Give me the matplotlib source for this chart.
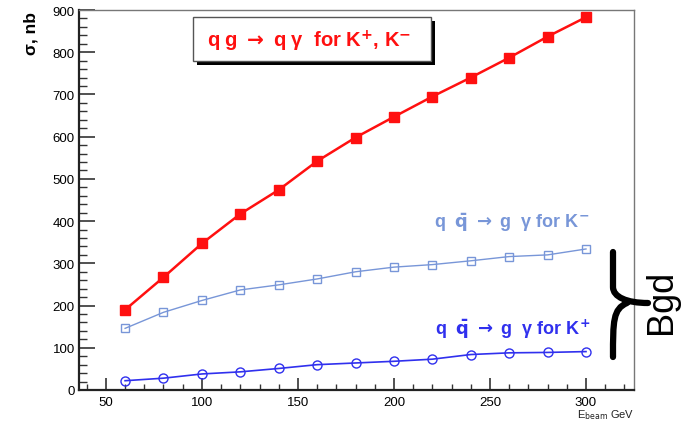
import matplotlib
matplotlib.use("Agg")
import matplotlib.pyplot as plt
from matplotlib.patches import Rectangle, PathPatch
from matplotlib.path import Path
from matplotlib.ticker import MultipleLocator

# Beam energy points (GeV)
energy = [60, 80, 100, 120, 140, 160, 180, 200, 220, 240, 260, 280, 300]
# Cross sections (nb)
sigma_qg = [190, 267, 347, 417, 474, 542, 598, 647, 695, 740, 787, 837, 883]
sigma_qqbar_kminus = [146, 184, 212, 237, 249, 263, 280, 291, 297, 306, 316, 320, 334]
sigma_qqbar_kplus = [22, 28, 38, 43, 51, 60, 64, 68, 73, 84, 88, 89, 91]

W, H = 693, 427
plt.rcParams["font.family"] = ["Liberation Sans", "DejaVu Sans"]
plt.rcParams["mathtext.fontset"] = "dejavusans"

fig = plt.figure(figsize=(W / 100, H / 100), dpi=100)
ax = fig.add_axes([79 / W, 1 - 391 / H, (634 - 79) / W, (391 - 11) / H])


def fx(px):
    return px / W


def fy(py):
    return 1 - py / H


red = "#ff1010"
light_blue = "#7896d8"
blue = "#3030ee"

ax.plot(energy, sigma_qg, color=red, lw=1.8, marker="s", ms=6.5,
        mfc=red, mec=red, zorder=4)
ax.plot(energy, sigma_qqbar_kminus, color=light_blue, lw=1.0, marker="s",
        ms=6, mfc="none", mec=light_blue, mew=1.0, zorder=3)
ax.plot(energy, sigma_qqbar_kplus, color=blue, lw=1.2, marker="o", ms=6.5,
        mfc="none", mec=blue, mew=1.0, zorder=3)

ax.set_xlim(36, 325)
ax.set_ylim(0, 900)
ax.xaxis.set_major_locator(MultipleLocator(50))
ax.xaxis.set_minor_locator(MultipleLocator(10))
ax.yaxis.set_major_locator(MultipleLocator(100))
ax.yaxis.set_minor_locator(MultipleLocator(20))
ax.tick_params(axis="y", which="major", direction="in", length=11.5,
               width=1.2, color="#333333", labelsize=9.5, pad=3)
ax.tick_params(axis="y", which="minor", direction="in", length=5.8,
               width=1.0, color="#333333")
ax.tick_params(axis="x", which="major", direction="in", length=8.6,
               width=1.2, color="#333333", labelsize=9.5, pad=4)
ax.tick_params(axis="x", which="minor", direction="in", length=4.3,
               width=1.0, color="#333333")
for side in ("left", "bottom"):
    ax.spines[side].set_linewidth(1.6)
    ax.spines[side].set_color("#222222")
for side in ("top", "right"):
    ax.spines[side].set_linewidth(1.0)
    ax.spines[side].set_color("#777777")

# Axis titles
fig.text(fx(31), fy(12), "σ, nb", rotation=90, ha="center",
         va="top", fontsize=12.5, fontweight="bold")
fig.text(fx(634), fy(415), r"E$_{\mathrm{beam}}$ GeV", ha="right",
         va="center", fontsize=8, color="#222222")

# Boxed label of the signal process
fig.patches.append(Rectangle((fx(197), fy(66)), (431 - 193) / W, (62 - 18) / H,
                             transform=fig.transFigure, facecolor="black",
                             edgecolor="none", zorder=5))
fig.patches.append(Rectangle((fx(193), fy(62)), (431 - 193) / W, (62 - 18) / H,
                             transform=fig.transFigure, facecolor="white",
                             edgecolor="#555555", lw=1.0, zorder=6))
fig.text(fx(309), fy(41),
         r"q g $\mathbf{\rightarrow}$ q γ  for K$^{\mathbf{+}}$, K$^{\mathbf{-}}$",
         ha="center", va="center", fontsize=14.5, fontweight="bold",
         color=red, zorder=7)

# Background process labels
fig.text(fx(512), fy(223),
         r"q  $\mathbf{\bar{q}}$ $\mathbf{\rightarrow}$ g  γ for K$^{\mathbf{-}}$",
         ha="center", va="center", fontsize=13, fontweight="bold",
         color=light_blue)
fig.text(fx(513), fy(329),
         r"q  $\mathbf{\bar{q}}$ $\mathbf{\rightarrow}$ g  γ for K$^{\mathbf{+}}$",
         ha="center", va="center", fontsize=13, fontweight="bold",
         color=blue)

# Brace grouping the two backgrounds
pts = [(fx(613), fy(253)), (fx(613), fy(288)),
       (fx(613), fy(298)), (fx(627), fy(304)),
       (fx(648), fy(304)),
       (fx(627), fy(304)),
       (fx(613), fy(310)), (fx(613), fy(322)),
       (fx(613), fy(358))]
codes = [Path.MOVETO, Path.LINETO, Path.CURVE4, Path.CURVE4, Path.LINETO,
         Path.MOVETO, Path.CURVE4, Path.CURVE4, Path.LINETO]
fig.patches.append(PathPatch(Path(pts, codes), transform=fig.transFigure,
                             facecolor="none", edgecolor="black", lw=4.5,
                             capstyle="round", joinstyle="round", zorder=8))
fig.text(fx(662), fy(302), "Bgd", rotation=90, ha="center", va="center",
         fontsize=26, color="black")

fig.savefig("out.png", dpi=100)
